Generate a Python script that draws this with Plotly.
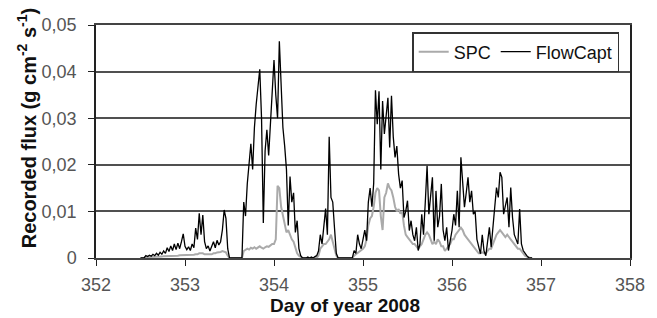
import plotly.graph_objects as go

# ---------------- data ----------------
start_day = 352.5
step_day = 0.02  # sampling interval of the series (days)

# Recorded flux in units of 1e-3 g cm-2 s-1, one row = 0.2 day (10 samples)
flowcapt_milli = [
    0, 0, 0, 0.5, 0.3, 0.6, 0.4, 0.8, 0.5, 1.0,            # 352.50
    0.6, 1.2, 0.8, 1.5, 1.0, 2.2, 1.4, 2.6, 1.6, 3.0,      # 352.70
    1.8, 3.2, 2.0, 3.5, 5.2, 2.5, 1.8, 2.4, 1.6, 3.0,      # 352.90
    2.2, 6.4, 4.0, 9.6, 5.0, 9.2, 3.5, 2.0, 2.6, 1.5,      # 353.10
    2.4, 3.5, 2.2, 3.8, 2.8, 3.5, 6.0, 10.3, 8.5, 2.0,     # 353.30
    0, 0, 0, 0, 0, 0, 0, 0, 12, 9,                         # 353.50
    16, 20.5, 24.5, 19, 28, 33, 37, 40.5, 30, 7.5,         # 353.70
    23, 27.5, 22, 28, 36, 42.5, 35, 30, 46.5, 35,          # 353.90
    28, 24, 19, 7, 17.5, 12, 14, 5.5, 8, 2,                # 354.10
    0.5, 0, 0, 0, 0.2, 0, 0.2, 0, 0.3, 0.5,                # 354.30
    1.5, 5, 3, 7, 10.6, 5, 26, 13, 12, 6.4,                # 354.50
    1, 0, 0, 0, 0, 0, 0, 0, 0, 0,                          # 354.70
    1.6, 1.0, 5.0, 3.0, 2.0, 4.0, 6.0, 3.7, 12, 15,        # 354.90
    11, 16, 36, 28.7, 35.8, 19, 33.7, 26.6, 30, 34.4,      # 355.10
    23.7, 34.8, 26, 21.6, 24, 18, 15, 16.6, 8.7, 10,       # 355.30
    12.3, 5.9, 8, 5, 3.7, 6.6, 1.6, 3, 9.4, 5,             # 355.50
    12, 19.8, 9.4, 13, 17.3, 3.7, 14.4, 6.6, 9, 15.9,      # 355.70
    6, 3.7, 6.6, 1.6, 3.5, 5.9, 9.4, 7, 14.4, 6.6,         # 355.90
    21.6, 15, 10.9, 14, 17.3, 12, 14.4, 9.4, 10, 4,        # 356.10
    2.3, 0.9, 5, 1.5, 0.5, 3.7, 6.6, 2.3, 6, 10.9,         # 356.30
    15.1, 13, 18.4, 17.3, 9.4, 11, 13, 6.6, 15.1, 8.7,     # 356.50
    5.0, 4, 3.0, 10.5, 3, 1.6, 0.9, 0.5, 0.1, 0,           # 356.70
    0,                                                     # 356.90
]

spc_milli = [
    0, 0, 0, 0.2, 0.2, 0.2, 0.2, 0.3, 0.3, 0.3,            # 352.50
    0.3, 0.3, 0.3, 0.4, 0.4, 0.4, 0.4, 0.5, 0.5, 0.5,      # 352.70
    0.5, 0.5, 0.6, 0.6, 0.6, 0.6, 0.6, 0.6, 0.6, 0.7,      # 352.90
    0.7, 0.8, 0.8, 1.0, 1.0, 1.0, 0.8, 0.8, 0.8, 0.8,      # 353.10
    0.8, 1.0, 1.0, 1.2, 1.2, 1.3, 1.5, 1.3, 1.2, 0.5,      # 353.30
    0, 0, 0, 0, 0, 0, 0, 0, 1.5, 1.8,                      # 353.50
    2.0, 1.8, 2.2, 2.0, 2.3, 2.0, 2.2, 2.5, 2.2, 2.0,      # 353.70
    2.3, 2.5, 2.4, 2.8, 3.0, 3.0, 4.0, 15.5, 15, 11,       # 353.90
    9, 7, 5.5, 6, 5, 4, 3.5, 2, 1, 0.5,                    # 354.10
    0.2, 0, 0, 0, 0, 0, 0, 0, 0, 0,                        # 354.30
    0.5, 2, 2.5, 3, 3, 3.5, 4, 5, 3.5, 2,                  # 354.50
    0.5, 0, 0, 0, 0, 0, 0, 0, 0, 0,                        # 354.70
    0.5, 0.8, 1.0, 1.2, 1.5, 2.0, 2.5, 4, 7, 8.5,          # 354.90
    9, 11, 14, 15, 14.5, 9, 6, 13, 14, 16,                 # 355.10
    15, 14.5, 13, 11, 10, 10.5, 9.5, 10, 7, 5,             # 355.30
    4.5, 4, 3.5, 3, 3, 2.5, 2, 2.5, 3, 4,                  # 355.50
    5, 5.5, 5, 4, 3, 3.5, 3, 4, 3.5, 2.5,                  # 355.70
    2.5, 1.5, 2, 2.5, 3, 4, 4, 5, 5.5, 6,                  # 355.90
    6.5, 6, 5, 4.5, 4, 3.5, 3, 2.5, 2, 1.5,                # 356.10
    1, 1, 1.2, 1, 1, 1.5, 2, 2, 3, 4,                      # 356.30
    5, 5.5, 6, 5.5, 5, 4.5, 5, 4.5, 4, 3.5,                # 356.50
    3, 2.5, 2, 2, 1.5, 1, 0.5, 0.3, 0.1, 0,                # 356.70
    0,                                                     # 356.90
]

x_ticks = [352, 353, 354, 355, 356, 357, 358]
y_ticks = [0, 0.01, 0.02, 0.03, 0.04, 0.05]
y_tick_labels = ["0", "0,01", "0,02", "0,03", "0,04", "0,05"]

days_f = [round(start_day + step_day * i, 4) for i in range(len(flowcapt_milli))]
days_s = [round(start_day + step_day * i, 4) for i in range(len(spc_milli))]
flowcapt = [v / 1000.0 for v in flowcapt_milli]
spc = [v / 1000.0 for v in spc_milli]

# ---------------- figure ----------------
FONT = "Liberation Sans, Arial, sans-serif"
W, H = 657, 318
# plot area wanted on screen: x 96..640, y 25..258
PX0, PX1, PY0, PY1 = 96, 640, 25, 258
L, T, R, B = PX0, PY0, W - PX1, H - PY1
pw, ph = PX1 - PX0, PY1 - PY0


def xp(sx):
    return (sx - PX0) / pw


def yp(sy):
    return (PY1 - sy) / ph


fig = go.Figure()
fig.add_trace(go.Scatter(x=days_s, y=spc, mode="lines", name="SPC",
                         line=dict(color="#aaaaaa", width=2)))
fig.add_trace(go.Scatter(x=days_f, y=flowcapt, mode="lines", name="FlowCapt",
                         line=dict(color="#000000", width=1.3)))

fig.update_layout(
    width=W, height=H,
    margin=dict(l=L, r=R, t=T, b=B, pad=0),
    paper_bgcolor="white", plot_bgcolor="white",
    font=dict(family=FONT, color="#444444", size=18),
    showlegend=True,
    legend=dict(orientation="h", x=xp(629), xanchor="right",
                y=yp(32), yanchor="top",
                bgcolor="white", bordercolor="#333333", borderwidth=1.5,
                font=dict(family=FONT, size=18, color="#111111"),
                itemwidth=30, tracegroupgap=0),
)

fig.update_xaxes(range=[352, 358], tickvals=x_ticks, ticks="outside", ticklen=6,
                 tickcolor="#222222", tickwidth=1.3, showgrid=False, zeroline=False,
                 showline=True, linecolor="#444444", linewidth=1.5, mirror=True,
                 tickfont=dict(family=FONT, size=18, color="#555555"),
                 ticklabelstandoff=4)
fig.update_yaxes(range=[0, 0.05], tickvals=y_ticks, ticktext=y_tick_labels,
                 ticks="outside", ticklen=6, tickcolor="#222222", tickwidth=1.3,
                 showgrid=True, gridcolor="#505050", gridwidth=1.6, zeroline=False,
                 showline=True, linecolor="#222222", linewidth=1.5, mirror=True,
                 tickfont=dict(family=FONT, size=18, color="#555555"),
                 ticklabelstandoff=8)

fig.add_annotation(text="<b>Day of year 2008</b>", xref="paper", yref="paper",
                   x=xp(350), y=yp(305), xanchor="center",
                   yanchor="middle", showarrow=False,
                   font=dict(family=FONT, size=19, color="#111111"))
fig.add_annotation(text="<b>Recorded flux (g cm<sup>-2</sup> s<sup>-1</sup>)</b>",
                   xref="paper", yref="paper",
                   x=xp(25), y=yp(128), xanchor="center",
                   yanchor="middle", textangle=-90, showarrow=False,
                   font=dict(family=FONT, size=20, color="#111111"))

# remove the default 8px body margin so the figure sits at the page origin
fig.write_html("out.html",
               config={"displayModeBar": False},
               post_script="document.body.style.margin='0';"
                           "document.body.style.overflow='hidden';")
